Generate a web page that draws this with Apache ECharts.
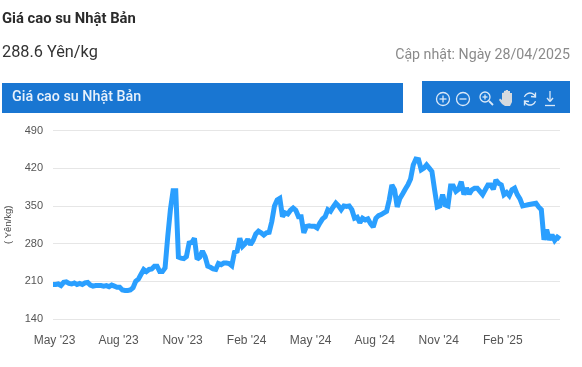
<!DOCTYPE html>
<html><head><meta charset="utf-8">
<style>html,body{margin:0;padding:0;background:#fff}#c{width:582px;height:367px}</style>
<script src="https://cdn.jsdelivr.net/npm/echarts@6/dist/echarts.min.js"></script>
</head><body><div id="c"></div>
<script>
const tickLabels = ["May '23","Aug '23","Nov '23","Feb '24","May '24","Aug '24","Nov '24","Feb '25"];
const yTicks = {min:140,max:490,step:70};
const prices2023 = [204,204,205,202,208,209,206,205,207,204,206,204,207,208,203,201,202,202,202,201,202,200,203,201,199,199,194,193,193,194,198,210,214,223,232,228,232,233,238,238,228,228,235,293,343,378,378,255,253,252,256,281,282,290,251,255,266,256,238,236,233,232,243,241,244,244,243,239];
const prices2024 = [264,266,290,275,280,288,278,286,298,303,300,296,300,301,321,350,361,364,330,337,335,342,346,342,330,330,300,312,313,312,312,309,318,326,330,343,340,348,355,350,343,350,349,350,343,327,329,319,327,324,326,317,311,327,332,334,337,340,361,389,380,348,364,372,381,389,400,426,437,436,417,420,426,420,414,380,348,350,371,352,350,387,387,377,381,395,371,383,372,380,383,383,377,371,380,389,389,381,398,392,389,371,375,369,380,383,371,363,350,351,352,353,354,355,348,343,287,306,287,296,286,292,288.6];
const prices = prices2023.concat(prices2024);
const categories = prices.map((_,i)=> i%24===0 ? tickLabels[i/24] : '');
const chartTitle = 'Giá cao su Nhật Bản';
const priceText = '288.6 Yên/kg';
const updatedText = 'Cập nhật: Ngày 28/04/2025';
const unitText = '( Yên/kg)';

const chart = echarts.init(document.getElementById('c'),null,{renderer:'canvas'});
const F='Roboto', W='#dbe9f8';
const ring=(x,y,r)=>({type:'circle',shape:{cx:x,cy:y,r:r},style:{fill:'none',stroke:W,lineWidth:1.3},silent:true});
const ln=(a,b,c,d,w)=>({type:'line',shape:{x1:a,y1:b,x2:c,y2:d},style:{stroke:W,lineWidth:w||1.3},silent:true});
const arc=(x,y,r,s,e)=>({type:'arc',shape:{cx:x,cy:y,r:r,startAngle:s,endAngle:e,clockwise:true},style:{fill:'none',stroke:W,lineWidth:1.3},silent:true});
const txt=(x,y,t,font,fill,align)=>({type:'text',x:x,y:y,style:{text:t,font:font,fill:fill,align:align||'left',verticalAlign:'middle'},silent:true});
chart.setOption({
  animation:false,
  backgroundColor:'#fff',
  grid:{left:53,right:22,top:130.5,bottom:48,outerBoundsMode:'none',containLabel:false},
  xAxis:{type:'category',boundaryGap:false,data:categories,
    axisLine:{show:false},axisTick:{show:false},splitLine:{show:false},
    axisLabel:{interval:23,color:'#555',fontFamily:'Liberation Sans',fontSize:12,margin:16,padding:[0,0,0,3],hideOverlap:false}},
  yAxis:{type:'value',min:yTicks.min,max:yTicks.max,interval:yTicks.step,
    axisLine:{show:false},axisTick:{show:false},
    splitLine:{lineStyle:{color:'#e6e6e6',width:1}},
    axisLabel:{color:'#555',fontFamily:'Liberation Sans',fontSize:11,margin:10},
    name:unitText,nameLocation:'middle',nameGap:37,nameRotate:90,
    nameTextStyle:{color:'#444',fontFamily:'Liberation Sans',fontSize:9.5}},
  series:[{type:'line',data:prices,showSymbol:false,smooth:false,
    lineStyle:{color:'#2a9fff',width:5,join:'miter',miterLimit:2},itemStyle:{color:'#2a9fff'}}],
  graphic:[
    txt(2,19,chartTitle,'bold 14.8px '+F,'#2b2b2b'),
    txt(2,53,priceText,'16.3px '+F,'#333'),
    txt(570,55,updatedText,'14.2px '+F,'#8a8a8a','right'),
    {type:'rect',shape:{x:2,y:83,width:401,height:30},style:{fill:'#1976d2'},silent:true},
    txt(12,97,chartTitle,'500 14.3px '+F,'#e8f1fb'),
    {type:'rect',shape:{x:422,y:81,width:148,height:32},style:{fill:'#1976d2'},silent:true},
    ring(443,99,6.5),ln(439.5,99,446.5,99),ln(443,95.5,443,102.5),
    ring(463,99,6.5),ln(459.5,99,466.5,99),
    ring(485,97,5),ln(482.5,97,487.5,97),ln(485,94.5,485,99.5),ln(489,101,493,105,1.8),
    {type:'polygon',shape:{points:[[502,100],[502,93],[504,92.5],[504,91],[506,90.5],[506,90],[508,90],[508,91],[510,91],[510,93],[512,93],[512,102],[510,106],[505,106],[502,104],[499,100],[500,98.5]]},style:{fill:'#d5d9de'},silent:true},
    arc(530,99,6,3.5,5.9),arc(530,99,6,0.4,2.8),
    {type:'polyline',shape:{points:[[535.5,92.5],[535.5,97],[531,96.5]]},style:{fill:'none',stroke:W,lineWidth:1.3},silent:true},
    {type:'polyline',shape:{points:[[524.5,105.5],[524.5,101],[529,101.5]]},style:{fill:'none',stroke:W,lineWidth:1.3},silent:true},
    ln(550,91,550,101),ln(547,98,550,101.5),ln(553,98,550,101.5),ln(545,105.5,555,105.5)
  ]
});
</script></body></html>
